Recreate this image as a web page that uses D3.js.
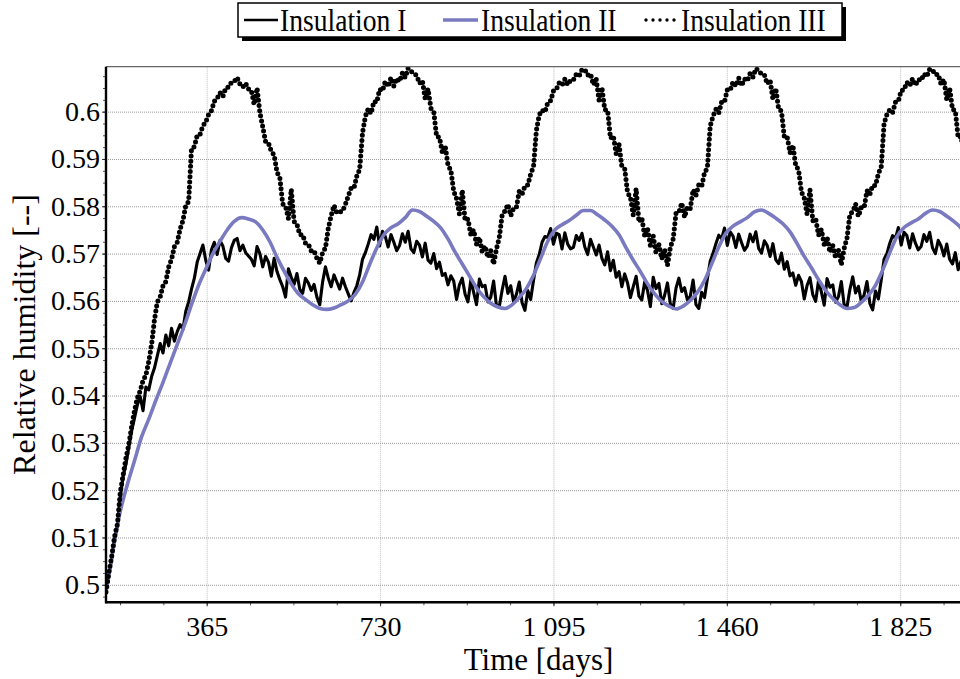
<!DOCTYPE html>
<html lang="en">
<head>
<meta charset="UTF-8">
<title>Relative humidity - insulations</title>
<script src="https://d3js.org/d3.v7.min.js"></script>
<style>
  body { margin: 0; background: #fff; }
  svg text { font-family: "Liberation Serif", "Times New Roman", serif; fill: #000; }
</style>
</head>
<body>
<svg id="chart" width="960" height="679"></svg>
<script>
// series names, in legend order
const seriesNames = ["Insulation I", "Insulation II", "Insulation III"];

// sampling of the series (days)
const startDay = 153;
const stepDays = 6;     // Insulation I and III
const stepDaysII = 15;  // Insulation II (smooth)

// Insulation I (solid black)
const insulationI = [
  0.4985, 0.5022, 0.5055, 0.5095, 0.5125, 0.5185, 0.5228, 0.5255, 0.5290, 0.5325,
  0.5352, 0.5380, 0.5398, 0.5368, 0.5418, 0.5412, 0.5440, 0.5458, 0.5484, 0.5510,
  0.5490, 0.5528, 0.5505, 0.5542, 0.5515, 0.5535, 0.5550, 0.5540, 0.5578, 0.5598,
  0.5625, 0.5648, 0.5682, 0.5700, 0.5718, 0.5686, 0.5665, 0.5708, 0.5724, 0.5698,
  0.5728, 0.5716, 0.5690, 0.5684, 0.5712, 0.5728, 0.5732, 0.5706, 0.5718, 0.5702,
  0.5695, 0.5688, 0.5674, 0.5715, 0.5700, 0.5672, 0.5694, 0.5682, 0.5652, 0.5690,
  0.5662, 0.5645, 0.5630, 0.5608, 0.5668, 0.5650, 0.5635, 0.5658, 0.5624, 0.5616,
  0.5648, 0.5638, 0.5622, 0.5635, 0.5608, 0.5592, 0.5640, 0.5672, 0.5648, 0.5630,
  0.5655, 0.5640, 0.5625, 0.5648, 0.5630, 0.5615, 0.5600, 0.5618, 0.5632, 0.5655,
  0.5688,
  0.5702, 0.5720, 0.5740, 0.5730, 0.5756,
  0.5716, 0.5747, 0.5736, 0.5714, 0.5740, 0.5724, 0.5706, 0.5717, 0.5742, 0.5724,
  0.5747, 0.5710, 0.5702, 0.5726, 0.5718,
  0.5693, 0.5722, 0.5686, 0.5680, 0.5700, 0.5668, 0.5682, 0.5654, 0.5658, 0.5634,
  0.5653, 0.5642, 0.5603,
  0.5634, 0.5648, 0.5614, 0.5598, 0.5644, 0.5618, 0.5592, 0.5646, 0.5630, 0.5633,
  0.5598, 0.5608, 0.5642, 0.5590, 0.5588, 0.5623, 0.5652, 0.5616, 0.5632, 0.5598,
  0.5614, 0.5640, 0.5596, 0.5580, 0.5622, 0.5603, 0.5643,
  0.5680,
  0.5698, 0.5724, 0.5736, 0.5734, 0.5753,
  0.5720, 0.5743, 0.5740, 0.5710, 0.5744, 0.5720, 0.5710, 0.5713, 0.5738, 0.5728,
  0.5743, 0.5714, 0.5698, 0.5730, 0.5714,
  0.5697, 0.5718, 0.5690, 0.5676, 0.5704, 0.5664, 0.5686, 0.5650, 0.5662, 0.5630,
  0.5657, 0.5638, 0.5607,
  0.5630, 0.5652, 0.5610, 0.5602, 0.5640, 0.5622, 0.5588, 0.5650, 0.5626, 0.5637,
  0.5594, 0.5612, 0.5638, 0.5594, 0.5584, 0.5627, 0.5648, 0.5620, 0.5628, 0.5602,
  0.5610, 0.5644, 0.5592, 0.5584, 0.5618, 0.5607, 0.5647,
  0.5684,
  0.5701, 0.5721, 0.5739, 0.5731, 0.5754,
  0.5717, 0.5746, 0.5737, 0.5713, 0.5741, 0.5723, 0.5707, 0.5716, 0.5741, 0.5725,
  0.5746, 0.5711, 0.5701, 0.5727, 0.5717,
  0.5694, 0.5721, 0.5687, 0.5679, 0.5701, 0.5667, 0.5683, 0.5653, 0.5659, 0.5633,
  0.5654, 0.5641, 0.5604,
  0.5633, 0.5649, 0.5613, 0.5599, 0.5643, 0.5619, 0.5591, 0.5647, 0.5629, 0.5634,
  0.5597, 0.5609, 0.5641, 0.5591, 0.5587, 0.5624, 0.5651, 0.5617, 0.5631, 0.5599,
  0.5613, 0.5641, 0.5595, 0.5581, 0.5621, 0.5604, 0.5644,
  0.5688,
  0.5700, 0.5722, 0.5738, 0.5732, 0.5755,
  0.5718, 0.5745, 0.5738, 0.5712, 0.5742, 0.5722, 0.5708, 0.5715, 0.5740, 0.5726,
  0.5745, 0.5712, 0.5700, 0.5728, 0.5716,
  0.5695, 0.5720, 0.5688, 0.5678, 0.5702, 0.5666, 0.5684, 0.5652, 0.5660, 0.5632
];

// Insulation II (blue, smooth)
const insulationII = [
  0.4985, 0.5075, 0.5155, 0.5212, 0.5262, 0.5313, 0.5350, 0.5390, 0.5428, 0.5468,
  0.5508, 0.5548, 0.5592, 0.5633, 0.5667, 0.5700, 0.5726, 0.5750, 0.5768, 0.5776,
  0.5773, 0.5767, 0.5750, 0.5725, 0.5692, 0.5663, 0.5636, 0.5615, 0.5603, 0.5592,
  0.5584, 0.5582, 0.5585, 0.5592, 0.5600, 0.5614, 0.5640, 0.5677, 0.5712, 0.5740,
  0.5755, 0.5763, 0.5776, 0.5792,
  0.5789, 0.5779, 0.5768, 0.5754, 0.5731, 0.5703, 0.5678, 0.5653, 0.5628, 0.5609,
  0.5595, 0.5587, 0.5584, 0.5592, 0.5607, 0.5626, 0.5654, 0.5690, 0.5726, 0.5750,
  0.5761, 0.5770, 0.5781, 0.5791,
  0.5791, 0.5782, 0.5771, 0.5758, 0.5740, 0.5712, 0.5686, 0.5662, 0.5636, 0.5615,
  0.5599, 0.5589, 0.5583, 0.5589, 0.5601, 0.5618, 0.5643, 0.5678, 0.5714, 0.5743,
  0.5758, 0.5767, 0.5776, 0.5788,
  0.5792, 0.5785, 0.5775, 0.5763, 0.5746, 0.5721, 0.5694, 0.5670, 0.5645, 0.5622,
  0.5605, 0.5592, 0.5584, 0.5586, 0.5597, 0.5612, 0.5633, 0.5665, 0.5702, 0.5736,
  0.5755, 0.5765, 0.5773, 0.5785, 0.5792,
  0.5789, 0.5779, 0.5768, 0.5754, 0.5731, 0.5703
];

// Insulation III (dotted black)
const insulationIII = [
  0.4985, 0.5025, 0.5060, 0.5102, 0.5128, 0.5195, 0.5232, 0.5268, 0.5296, 0.5335,
  0.5368, 0.5395, 0.5410, 0.5432, 0.5443, 0.5472, 0.5508, 0.5560, 0.5598, 0.5608,
  0.5632, 0.5641, 0.5672, 0.5688, 0.5715, 0.5724, 0.5752, 0.5770, 0.5802, 0.5810,
  0.5922, 0.5926, 0.5950, 0.5952, 0.5970, 0.5978, 0.5994, 0.6002, 0.6022, 0.6028,
  0.6040, 0.6032, 0.6050, 0.6052, 0.6062, 0.6064, 0.6072, 0.6058, 0.6052, 0.6060,
  0.6048, 0.6045, 0.6015, 0.6050, 0.5998, 0.5968, 0.5936, 0.5934, 0.5916, 0.5908,
  0.5872, 0.5860, 0.5805, 0.5800, 0.5774, 0.5836, 0.5768, 0.5762, 0.5740, 0.5740,
  0.5722, 0.5720, 0.5706, 0.5706, 0.5690, 0.5680, 0.5702, 0.5712, 0.5754, 0.5780,
  0.5802, 0.5786, 0.5788, 0.5790, 0.5804, 0.5822, 0.5838, 0.5838, 0.5864, 0.5878,
  0.5955,
  0.5990, 0.6006, 0.5996, 0.6022, 0.6020, 0.6047, 0.6044, 0.6064, 0.6053, 0.6072,
  0.6054, 0.6070, 0.6064, 0.6082, 0.6072, 0.6092, 0.6086, 0.6080, 0.6077, 0.6060,
  0.6066, 0.6027, 0.6048, 0.6007, 0.6000, 0.5947, 0.5946, 0.5914, 0.5928, 0.5887,
  0.5876, 0.5832, 0.5816, 0.5784, 0.5834, 0.5770, 0.5773, 0.5740, 0.5750, 0.5720,
  0.5734, 0.5704, 0.5716, 0.5692, 0.5706, 0.5678, 0.5710, 0.5734, 0.5782, 0.5790,
  0.5804, 0.5780, 0.5796, 0.5798, 0.5832, 0.5826, 0.5843, 0.5845, 0.5868, 0.5884,
  0.5960,
  0.5993, 0.6003, 0.5999, 0.6019, 0.6023, 0.6044, 0.6047, 0.6061, 0.6056, 0.6069,
  0.6057, 0.6067, 0.6067, 0.6079, 0.6075, 0.6089, 0.6089, 0.6077, 0.6080, 0.6057,
  0.6069, 0.6024, 0.6051, 0.6004, 0.6003, 0.5944, 0.5949, 0.5911, 0.5931, 0.5884,
  0.5879, 0.5829, 0.5819, 0.5781, 0.5837, 0.5767, 0.5776, 0.5737, 0.5753, 0.5717,
  0.5737, 0.5701, 0.5719, 0.5689, 0.5709, 0.5675, 0.5713, 0.5731, 0.5785, 0.5787,
  0.5807, 0.5777, 0.5799, 0.5795, 0.5835, 0.5823, 0.5846, 0.5842, 0.5871, 0.5881,
  0.5970,
  0.5991, 0.6005, 0.5997, 0.6021, 0.6021, 0.6046, 0.6045, 0.6063, 0.6054, 0.6071,
  0.6055, 0.6069, 0.6065, 0.6081, 0.6073, 0.6091, 0.6087, 0.6079, 0.6078, 0.6059,
  0.6067, 0.6026, 0.6049, 0.6006, 0.6001, 0.5946, 0.5947, 0.5913, 0.5929, 0.5886,
  0.5877, 0.5831, 0.5817, 0.5783, 0.5835, 0.5769, 0.5774, 0.5739, 0.5751, 0.5719,
  0.5735, 0.5703, 0.5717, 0.5691, 0.5707, 0.5677, 0.5711, 0.5733, 0.5783, 0.5789,
  0.5805, 0.5779, 0.5797, 0.5797, 0.5833, 0.5825, 0.5844, 0.5844, 0.5869, 0.5883,
  0.5975,
  0.5994, 0.6004, 0.5998, 0.6020, 0.6022, 0.6045, 0.6046, 0.6062, 0.6055, 0.6070,
  0.6056, 0.6068, 0.6066, 0.6080, 0.6074, 0.6090, 0.6088, 0.6078, 0.6079, 0.6058,
  0.6068, 0.6025, 0.6050, 0.6005, 0.6002, 0.5945, 0.5948, 0.5912, 0.5930, 0.5885
];

// axes
const xTicks = [365, 730, 1095, 1460, 1825];
const xTickLabels = ["365", "730", "1 095", "1 460", "1 825"];
const yTicks = [0.5, 0.51, 0.52, 0.53, 0.54, 0.55, 0.56, 0.57, 0.58, 0.59, 0.6];
const yTickLabels = ["0.5", "0.51", "0.52", "0.53", "0.54", "0.55", "0.56", "0.57", "0.58", "0.59", "0.6"];
const xTitle = "Time [days]";
const yTitle = "Relative humidity [--]";

const svg = d3.select("#chart");
const plot = { left: 106, right: 971, top: 66.7, bottom: 602.3 };

const x = d3.scaleLinear().domain([153, 1974]).range([plot.left, plot.right]);
const y = d3.scaleLinear().domain([0.4963, 0.6095]).range([plot.bottom, plot.top]);

svg.append("clipPath").attr("id", "clip")
  .append("rect")
  .attr("x", plot.left).attr("y", plot.top)
  .attr("width", plot.right - plot.left).attr("height", plot.bottom - plot.top);

// grid
svg.append("g")
  .attr("transform", `translate(0,${plot.bottom})`)
  .call(d3.axisBottom(x).tickValues(xTicks).tickSize(-(plot.bottom - plot.top)).tickFormat(""))
  .call(g => g.select(".domain").remove())
  .selectAll("line").attr("stroke", "#bcbcbc").attr("stroke-dasharray", "1 1");

svg.append("g")
  .attr("transform", `translate(${plot.left},0)`)
  .call(d3.axisLeft(y).tickValues(yTicks).tickSize(-(plot.right - plot.left)).tickFormat(""))
  .call(g => g.select(".domain").remove())
  .selectAll("line").attr("stroke", "#9a9a9a").attr("stroke-dasharray", "1 1");

// series
const lineI = d3.line().x((d, i) => x(startDay + i * stepDays)).y(d => y(d));
const lineII = d3.line().x((d, i) => x(startDay + i * stepDaysII)).y(d => y(d)).curve(d3.curveMonotoneX);

const lines = svg.append("g").attr("clip-path", "url(#clip)");

lines.append("path").datum(insulationI)
  .attr("fill", "none").attr("stroke", "#000").attr("stroke-width", 3.1)
  .attr("stroke-linejoin", "round").attr("d", lineI);

lines.append("path").datum(insulationII)
  .attr("fill", "none").attr("stroke", "#7a7ac0").attr("stroke-width", 3.6)
  .attr("d", lineII);

lines.append("path").datum(insulationIII)
  .attr("fill", "none").attr("stroke", "#000").attr("stroke-width", 5)
  .attr("stroke-linecap", "round").attr("stroke-dasharray", "0 5.2")
  .attr("d", lineI);

// frame
svg.append("line")
  .attr("x1", plot.left).attr("x2", plot.right).attr("y1", plot.top).attr("y2", plot.top)
  .attr("stroke", "#666").attr("stroke-width", 1.3);

// minor ticks
svg.append("g")
  .attr("transform", `translate(${plot.left},0)`)
  .call(d3.axisLeft(y).tickValues(d3.range(0.4975, 0.6095, 0.0025)).tickSize(3).tickFormat(""))
  .call(g => g.select(".domain").remove())
  .selectAll("line").attr("stroke", "#555");

svg.append("g")
  .attr("transform", `translate(0,${plot.bottom})`)
  .call(d3.axisBottom(x).tickValues(d3.range(182.5, 1974, 91.25)).tickSize(3).tickFormat(""))
  .call(g => g.select(".domain").remove())
  .selectAll("line").attr("stroke", "#555");

// y axis
const yAxis = svg.append("g")
  .attr("transform", `translate(${plot.left},0)`)
  .call(d3.axisLeft(y).tickValues(yTicks).tickFormat((d, i) => yTickLabels[i]).tickSize(4).tickPadding(2));
yAxis.select(".domain").remove();
yAxis.selectAll("line").attr("stroke", "#333");
yAxis.selectAll("text").attr("font-size", 28);

// x axis
const xAxis = svg.append("g")
  .attr("transform", `translate(0,${plot.bottom})`)
  .call(d3.axisBottom(x).tickValues(xTicks).tickFormat((d, i) => xTickLabels[i]).tickSize(4));
xAxis.select(".domain").remove();
xAxis.selectAll("line").attr("stroke", "#333");
xAxis.selectAll("text").attr("font-size", 28).attr("y", 33.7).attr("dy", 0);

// axis lines
svg.append("line")
  .attr("x1", plot.left).attr("x2", plot.left).attr("y1", plot.top).attr("y2", plot.bottom + 1)
  .attr("stroke", "#000").attr("stroke-width", 2.4);
svg.append("line")
  .attr("x1", plot.left - 1).attr("x2", plot.right).attr("y1", plot.bottom).attr("y2", plot.bottom)
  .attr("stroke", "#000").attr("stroke-width", 2.4);

// titles
svg.append("text")
  .attr("x", (plot.left + plot.right) / 2).attr("y", 670)
  .attr("text-anchor", "middle").attr("font-size", 31)
  .text(xTitle);

svg.append("text")
  .attr("transform", `translate(35,${(plot.top + plot.bottom) / 2}) rotate(-90)`)
  .attr("text-anchor", "middle").attr("font-size", 32)
  .text(yTitle);

// legend
const legend = svg.append("g");
const lg = { x: 238, y: 3, w: 604, h: 34 };
legend.append("rect")
  .attr("x", lg.x + 4).attr("y", lg.y + 4).attr("width", lg.w).attr("height", lg.h)
  .attr("fill", "#000");
legend.append("rect")
  .attr("x", lg.x).attr("y", lg.y).attr("width", lg.w).attr("height", lg.h)
  .attr("fill", "#fff").attr("stroke", "#000").attr("stroke-width", 1.5);

const legendItems = [
  { name: seriesNames[0], x0: 244, x1: 278, tx: 280, stroke: "#000", width: 2.6, dash: null },
  { name: seriesNames[1], x0: 443, x1: 478, tx: 481, stroke: "#7a7ac0", width: 3.6, dash: null },
  { name: seriesNames[2], x0: 646, x1: 676, tx: 681, stroke: "#000", width: 3.4, dash: "0 7" }
];
legendItems.forEach(it => {
  legend.append("line")
    .attr("x1", it.x0).attr("x2", it.x1).attr("y1", 20).attr("y2", 20)
    .attr("stroke", it.stroke).attr("stroke-width", it.width)
    .attr("stroke-linecap", it.dash ? "round" : "butt")
    .attr("stroke-dasharray", it.dash);
  legend.append("text")
    .attr("transform", `translate(${it.tx},31) scale(0.89,1)`)
    .attr("font-size", 31)
    .text(it.name);
});
</script>
</body>
</html>
